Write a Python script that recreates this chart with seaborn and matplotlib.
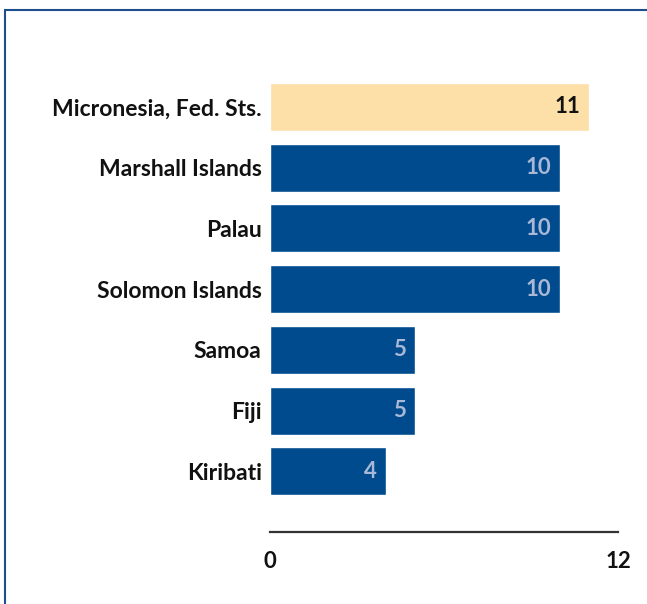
import numpy as np
import pandas as pd
import seaborn as sns
from matplotlib import pyplot as plt
from matplotlib.patches import Rectangle

# Chart data
countries = ['Micronesia, Fed. Sts.', 'Marshall Islands', 'Palau', 'Solomon Islands',
             'Samoa', 'Fiji', 'Kiribati']
values = [11, 10, 10, 10, 5, 5, 4]
bar_colors = ['#FDDFA8', '#004B8D', '#004B8D', '#004B8D', '#004B8D', '#004B8D', '#004B8D']
label_colors = ['#111111', '#A8B8D6', '#A8B8D6', '#A8B8D6', '#A8B8D6', '#A8B8D6', '#A8B8D6']
x_ticks = [0, 12]

df = pd.DataFrame({'country': countries, 'value': values})

sns.set_style('white')
plt.rcParams['font.family'] = ['Lato', 'DejaVu Sans']
FS = 16.5

fig = plt.figure(figsize=(6.47, 6.04), dpi=100)
W, H = 647, 604
ax = fig.add_axes([270 / W, 1 - 532 / H, (618 - 270) / W, (532 - 73.6) / H])

sns.barplot(data=df, x='value', y='country', hue='country', palette=bar_colors,
            width=0.79, legend=False, ax=ax, saturation=1, orient='h')

# value labels inside the bars
for i, v in enumerate(values):
    ax.text(v - 0.3, i, str(v), ha='right', va='center', fontsize=16,
            fontweight='bold', color=label_colors[i])

ax.set_xlim(0, 12)
ax.set_ylim(7, -0.55)
ax.set_xticks(x_ticks)
ax.set_xticklabels([str(t) for t in x_ticks], fontsize=16, fontweight='bold', color='#111111')
ax.set_yticks(range(len(countries)))
ax.set_yticklabels(countries, fontsize=FS, fontweight='bold', color='#111111')
ax.tick_params(axis='y', length=0, pad=6)
ax.tick_params(axis='x', length=0, pad=14)
ax.set_xlabel('')
ax.set_ylabel('')
for s in ['top', 'right', 'left']:
    ax.spines[s].set_visible(False)
ax.spines['bottom'].set_color('#333333')
ax.spines['bottom'].set_linewidth(1.6)

# blue frame around the chart
fig.patches.append(Rectangle((5 / W, -0.05), 1.1, 1 - 10 / H + 0.05, transform=fig.transFigure,
                             fill=False, edgecolor='#1F4E8C', linewidth=1.5))

plt.savefig('out.png', dpi=100)
